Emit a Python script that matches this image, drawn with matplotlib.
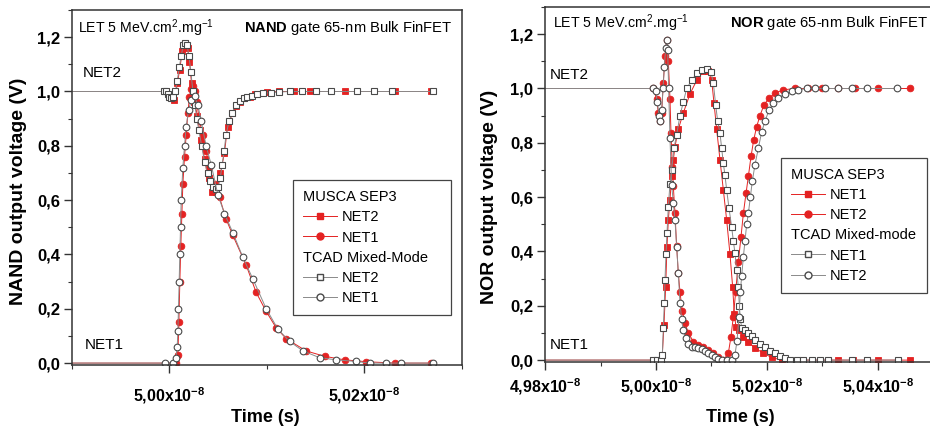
import numpy as np
import matplotlib
matplotlib.use("Agg")
import matplotlib.pyplot as plt
from matplotlib.lines import Line2D
from matplotlib.ticker import MultipleLocator, FuncFormatter

plt.rcParams['font.family'] = ['Liberation Sans', 'DejaVu Sans']
plt.rcParams['font.weight'] = 'bold'
plt.rcParams['mathtext.fontset'] = 'custom'
plt.rcParams['mathtext.rm'] = 'Liberation Sans:weight=normal'
plt.rcParams['mathtext.bf'] = 'Liberation Sans:bold'

# times are in ps after 50 ns, voltages in V
nand_musca_net2_t = [-200, -3.1, 2.1, 5.1, 8.2, 10.3, 13.3, 16.4, 18.5, 20.5,
                     22.6, 25.6, 28.7, 30.8, 32.8, 35.9, 39.0, 41.0, 44.1, 47.2,
                     49.2, 52.3, 56.4, 59.5, 64.6, 68.7, 71.8, 76.9, 82.1, 88.2,
                     99.5, 112.8, 128.2, 143.6, 179.5, 230.8, 268.7]
nand_musca_net2_v = [1.0, 1.0, 0.98, 0.97, 1.03, 1.08, 1.15, 1.18, 1.16, 1.11,
                     1.03, 0.96, 0.91, 0.86, 0.82, 0.75, 0.70, 0.68, 0.63, 0.63,
                     0.65, 0.70, 0.775, 0.87, 0.92, 0.945, 0.96, 0.975, 0.98, 0.99,
                     0.997, 1.0, 1.0, 1.0, 1.0, 1.0, 1.0]

nand_musca_net1_t = [-200, 6.8, 8.6, 9.6, 10.6, 11.6, 12.7, 13.7, 15.4, 17.1,
                     18.8, 20.5, 22.2, 23.9, 25.7, 28.0, 30.8, 34.2, 37.6, 41.0,
                     46.2, 51.3, 58.1, 65.0, 78.7, 88.9, 99.2, 109.4, 119.7, 140.0,
                     159.0, 179.5, 202.0, 231.0, 268.5]
nand_musca_net1_v = [0, 0, 0.03, 0.15, 0.30, 0.43, 0.55, 0.66, 0.76, 0.84,
                     0.92, 0.98, 1.01, 1.02, 1.00, 0.96, 0.89, 0.84, 0.78, 0.72,
                     0.66, 0.61, 0.53, 0.47, 0.36, 0.26, 0.19, 0.13, 0.09, 0.045,
                     0.025, 0.012, 0.005, 0, 0]

nand_tcad_net2_t = [-200, -6, -4, -2, 0, 2, 4, 6, 8, 10,
                    12, 14, 16, 18, 20, 22, 24, 26, 28, 30,
                    33, 36, 39, 42, 45, 48, 50, 52, 54, 56,
                    58, 61, 64, 68, 72, 76, 80, 85, 90, 96,
                    104, 112, 124, 136, 150, 166, 192, 210, 228, 270]
nand_tcad_net2_v = [1.0, 1.0, 1.0, 0.99, 0.98, 0.975, 0.98, 1.0, 1.04, 1.09,
                    1.13, 1.17, 1.18, 1.17, 1.13, 1.07, 1.0, 0.95, 0.9, 0.86,
                    0.8, 0.74, 0.70, 0.67, 0.65, 0.64, 0.65, 0.68, 0.73, 0.78,
                    0.84, 0.89, 0.92, 0.95, 0.965, 0.975, 0.98, 0.985, 0.99, 0.993,
                    0.996, 0.998, 1.0, 1.0, 1.0, 1.0, 1.0, 1.0, 1.0, 1.0]

nand_tcad_net1_t = [-200, -5.1, 3.4, 6.8, 7.9, 8.6, 9.2, 9.9, 10.6, 11.3,
                    12.0, 13.7, 15.4, 17.1, 19.5, 22.2, 25.7, 29.1, 32.5, 37.6,
                    42.8, 49.6, 56.4, 65.0, 75.2, 85.5, 99.2, 111.2, 123.1, 136.8,
                    153.9, 171.0, 191.5, 205.2, 222.3, 237.7, 270.2]
nand_tcad_net1_v = [0, 0, 0, 0.02, 0.06, 0.12, 0.20, 0.30, 0.40, 0.50,
                    0.60, 0.72, 0.80, 0.87, 0.93, 0.97, 0.985, 0.95, 0.89, 0.80,
                    0.73, 0.62, 0.55, 0.48, 0.39, 0.31, 0.20, 0.125, 0.08, 0.045,
                    0.02, 0.012, 0.006, 0, 0, 0, 0]

nor_musca_net1_t = [-300, -4.8, 4.2, 11.4, 14.4, 17.4, 19.8, 22.2, 25.2, 28.2,
                    31.2, 34.2, 40.2, 49.2, 61.3, 73.3, 85.3, 94.3, 100.3, 104.5,
                    109.3, 115.3, 121.3, 127.3, 133.3, 138.1, 141.1, 144.1, 149.5, 157.4,
                    166.4, 178.4, 193.4, 208.4, 226.4, 256.5, 328.5, 355.6, 400.6, 457.7]
nor_musca_net1_v = [0, 0, 0, 0.02, 0.13, 0.27, 0.418, 0.516, 0.59, 0.676,
                    0.737, 0.786, 0.85, 0.91, 0.98, 1.03, 1.063, 1.063, 1.03, 0.946,
                    0.85, 0.737, 0.627, 0.516, 0.39, 0.27, 0.17, 0.123, 0.11, 0.085,
                    0.065, 0.045, 0.025, 0.01, 0, 0, 0, 0, 0, 0]

nor_musca_net2_t = [-300, -4.8, 1.2, 4.2, 7.2, 10.2, 13.2, 16.2, 19.2, 22.2,
                    25.2, 27.0, 29.4, 31.2, 34.2, 37.2, 40.2, 43.2, 47.4, 52.3,
                    58.3, 67.3, 76.3, 85.3, 94.3, 103.3, 112.3, 121.3, 130.3, 135.1,
                    139.3, 143.5, 148.3, 153.2, 157.4, 162.2, 166.4, 171.2, 176.0, 181.4,
                    187.4, 194.6, 203.6, 214.4, 229.4, 250.4, 274.5, 298.5, 328.5, 358.6,
                    400.6, 457.7]
nor_musca_net2_v = [1.0, 1.0, 0.96, 0.91, 0.88, 0.91, 1.02, 1.12, 1.18, 1.10,
                    0.96, 0.835, 0.71, 0.64, 0.54, 0.42, 0.32, 0.25, 0.18, 0.135,
                    0.10, 0.068, 0.055, 0.047, 0.037, 0.025, 0.01, 0.0, 0.025, 0.086,
                    0.16, 0.25, 0.36, 0.455, 0.54, 0.614, 0.676, 0.75, 0.81, 0.86,
                    0.90, 0.94, 0.964, 0.983, 0.995, 1.0, 1.0, 1.0, 1.0, 1.0,
                    1.0, 1.0]

nor_tcad_net1_t = [-300, -4.8, 1.2, 9.0, 11.4, 13.2, 15.0, 16.2, 18.0, 19.8,
                   22.2, 25.2, 28.2, 32.4, 37.2, 43.2, 49.2, 55.3, 64.3, 73.3,
                   82.3, 91.3, 99.1, 103.3, 107.5, 111.1, 115.3, 118.3, 121.3, 124.3,
                   127.3, 131.5, 136.3, 139.3, 142.3, 145.3, 148.3, 150.2, 152.0, 154.4,
                   160.4, 166.4, 172.4, 178.4, 187.4, 196.4, 205.4, 214.4, 223.4, 232.4,
                   241.4, 253.5, 265.5, 280.5, 295.5, 310.5, 352.5, 379.6, 436.6]
nor_tcad_net1_v = [0, 0, 0, 0.0, 0.02, 0.12, 0.21, 0.295, 0.39, 0.467,
                   0.565, 0.65, 0.70, 0.78, 0.83, 0.90, 0.95, 1.0, 1.03, 1.056,
                   1.068, 1.07, 1.06, 1.02, 0.94, 0.88, 0.835, 0.78, 0.725, 0.68,
                   0.627, 0.56, 0.49, 0.44, 0.393, 0.33, 0.27, 0.20, 0.15, 0.12,
                   0.11, 0.10, 0.09, 0.074, 0.06, 0.05, 0.035, 0.025, 0.015, 0.006,
                   0, 0, 0, 0, 0, 0, 0, 0, 0]

nor_tcad_net2_t = [-300, -4.8, -0.6, 2.4, 5.4, 7.8, 10.2, 12.6, 15.0, 17.4,
                   19.2, 21.0, 22.8, 25.2, 28.2, 31.2, 34.2, 37.2, 40.2, 43.2,
                   46.2, 49.2, 53.5, 58.3, 64.3, 70.3, 76.3, 82.3, 88.3, 94.3,
                   100.3, 106.3, 112.3, 118.3, 127.3, 136.3, 142.3, 145.9, 149.5, 151.9,
                   154.4, 157.4, 160.4, 163.4, 166.4, 170.0, 173.6, 178.4, 184.4, 190.4,
                   196.4, 203.6, 211.4, 220.4, 232.4, 244.4, 256.5, 271.5, 286.5, 304.5,
                   328.5, 352.5, 379.6, 433.6]
nor_tcad_net2_v = [1.0, 1.0, 0.99, 0.95, 0.90, 0.88, 0.92, 1.0, 1.08, 1.15,
                   1.18, 1.14, 1.0, 0.817, 0.645, 0.58, 0.516, 0.418, 0.32, 0.21,
                   0.15, 0.11, 0.08, 0.06, 0.05, 0.047, 0.044, 0.04, 0.034, 0.027,
                   0.018, 0.01, 0.003, 0, 0, 0, 0.02, 0.07, 0.16, 0.25,
                   0.31, 0.38, 0.44, 0.50, 0.54, 0.60, 0.66, 0.72, 0.78, 0.84,
                   0.88, 0.92, 0.945, 0.965, 0.98, 0.99, 0.995, 1.0, 1.0, 1.0,
                   1.0, 1.0, 1.0, 1.0]

nand_xticks = [5.00e-8, 5.02e-8]
nor_xticks = [4.98e-8, 5.00e-8, 5.02e-8, 5.04e-8]

RED = '#e42222'
GRAY = '#4a4a4a'


def sec(ps):
    return 50e-9 + np.array(ps) * 1e-12


def musca(ax, t, v, marker):
    ax.plot(sec(t), v, color=RED, lw=0.7, marker=marker, ms=4.8,
            mfc=RED, mec=RED, mew=0.6)


def tcad(ax, t, v, marker):
    ax.plot(sec(t), v, color='#8a8a8a', lw=0.7, marker=marker, ms=4.8,
            mfc='white', mec=GRAY, mew=0.8)


def style(ax, xmin, xmax, xticks, xpad):
    ax.set_xlim(xmin * 1e-8, xmax * 1e-8)
    ax.set_ylim(-0.007, 1.30)
    ax.set_xticks(xticks)
    ax.xaxis.set_minor_locator(MultipleLocator(0.01e-8))
    ax.yaxis.set_major_locator(MultipleLocator(0.2))
    ax.yaxis.set_minor_locator(MultipleLocator(0.1))
    ax.xaxis.set_major_formatter(FuncFormatter(
        lambda x, p: f"{x / 1e-8:.2f}".replace('.', ',') + r"x10$^{\mathbf{-8}}$"))
    ax.yaxis.set_major_formatter(FuncFormatter(
        lambda y, p: f"{y:.1f}".replace('.', ',')))
    ax.tick_params(which='both', direction='out', top=False, right=False,
                   color='#333333')
    ax.tick_params(which='major', length=5.5, width=1)
    ax.tick_params(which='minor', length=3, width=0.8)
    ax.tick_params(axis='y', labelsize=12, pad=3)
    ax.tick_params(axis='x', labelsize=11.5, pad=xpad)
    for s in ax.spines.values():
        s.set_color('#333333')
        s.set_linewidth(1.1)


def legend(ax, labels, anchor):
    h = [Line2D([], [], ls='none'),
         Line2D([], [], color=RED, lw=0.7, marker='s', ms=5, mfc=RED, mec=RED),
         Line2D([], [], color=RED, lw=0.7, marker='o', ms=5, mfc=RED, mec=RED),
         Line2D([], [], ls='none'),
         Line2D([], [], color='#8a8a8a', lw=0.7, marker='s', ms=5, mfc='white', mec=GRAY),
         Line2D([], [], color='#8a8a8a', lw=0.7, marker='o', ms=5, mfc='white', mec=GRAY)]
    leg = ax.legend(h, labels, loc='upper left', bbox_to_anchor=anchor, mode='expand',
                    borderaxespad=0, prop={'weight': 'normal', 'size': 10.5},
                    handlelength=2.3, handletextpad=0.35, labelspacing=0.42,
                    numpoints=1, fancybox=False, framealpha=1, edgecolor='#444444',
                    borderpad=0.7)
    leg.get_frame().set_linewidth(0.9)
    rows = leg._legend_handle_box.get_children()[0].get_children()
    for i in (0, 3):
        rows[i].get_children()[0].width = 0
        rows[i].sep = 0
    return leg


fig = plt.figure(figsize=(9.3, 4.34), dpi=100)
ax1 = fig.add_axes([72 / 930, 1 - 365 / 434, 390 / 930, 355 / 434])
ax2 = fig.add_axes([545 / 930, 1 - 362 / 434, 388.5 / 930, 355 / 434])

# NAND
musca(ax1, nand_musca_net2_t, nand_musca_net2_v, 's')
musca(ax1, nand_musca_net1_t, nand_musca_net1_v, 'o')
tcad(ax1, nand_tcad_net2_t, nand_tcad_net2_v, 's')
tcad(ax1, nand_tcad_net1_t, nand_tcad_net1_v, 'o')
style(ax1, 4.99, 5.03, nand_xticks, 9)
legend(ax1, ['MUSCA SEP3', 'NET2', 'NET1', 'TCAD Mixed-Mode', 'NET2', 'NET1'],
       (0.567, 0.221, 0.405, 0.3))
ax1.set_ylabel('NAND output voltage (V)', fontsize=14, fontweight='bold')
ax1.yaxis.set_label_coords(-0.115, 0.49)
ax1.set_xlabel('Time (s)', fontsize=13, fontweight='bold')
ax1.xaxis.set_label_coords(0.495, -0.125)
ax1.text(0.015, 0.95, r"LET 5 MeV.cm$^2$.mg$^{-1}$", transform=ax1.transAxes,
         fontsize=10.2, weight='normal', va='center', ha='left')
ax1.text(0.975, 0.95, r"$\mathbf{NAND}$ gate 65-nm Bulk FinFET", transform=ax1.transAxes,
         fontsize=10.6, weight='normal', va='center', ha='right')
ax1.text(0.028, 0.823, 'NET2', transform=ax1.transAxes, fontsize=11,
         weight='normal', va='center')
ax1.text(0.033, 0.056, 'NET1', transform=ax1.transAxes, fontsize=11,
         weight='normal', va='center')

# NOR
musca(ax2, nor_musca_net1_t, nor_musca_net1_v, 's')
musca(ax2, nor_musca_net2_t, nor_musca_net2_v, 'o')
tcad(ax2, nor_tcad_net1_t, nor_tcad_net1_v, 's')
tcad(ax2, nor_tcad_net2_t, nor_tcad_net2_v, 'o')
style(ax2, 4.98, 5.05, nor_xticks, 5)
legend(ax2, ['MUSCA SEP3', 'NET1', 'NET2', 'TCAD Mixed-mode', 'NET1', 'NET2'],
       (0.607, 0.275, 0.376, 0.3))
ax2.set_ylabel('NOR output voltage (V)', fontsize=14, fontweight='bold')
ax2.yaxis.set_label_coords(-0.121, 0.465)
ax2.set_xlabel('Time (s)', fontsize=13, fontweight='bold')
ax2.xaxis.set_label_coords(0.502, -0.132)
ax2.text(0.02, 0.955, r"LET 5 MeV.cm$^2$.mg$^{-1}$", transform=ax2.transAxes,
         fontsize=10.2, weight='normal', va='center', ha='left')
ax2.text(0.988, 0.955, r"$\mathbf{NOR}$ gate 65-nm Bulk FinFET", transform=ax2.transAxes,
         fontsize=10.6, weight='normal', va='center', ha='right')
ax2.text(0.013, 0.808, 'NET2', transform=ax2.transAxes, fontsize=11,
         weight='normal', va='center')
ax2.text(0.013, 0.048, 'NET1', transform=ax2.transAxes, fontsize=11,
         weight='normal', va='center')

fig.savefig('out.png', dpi=100)
